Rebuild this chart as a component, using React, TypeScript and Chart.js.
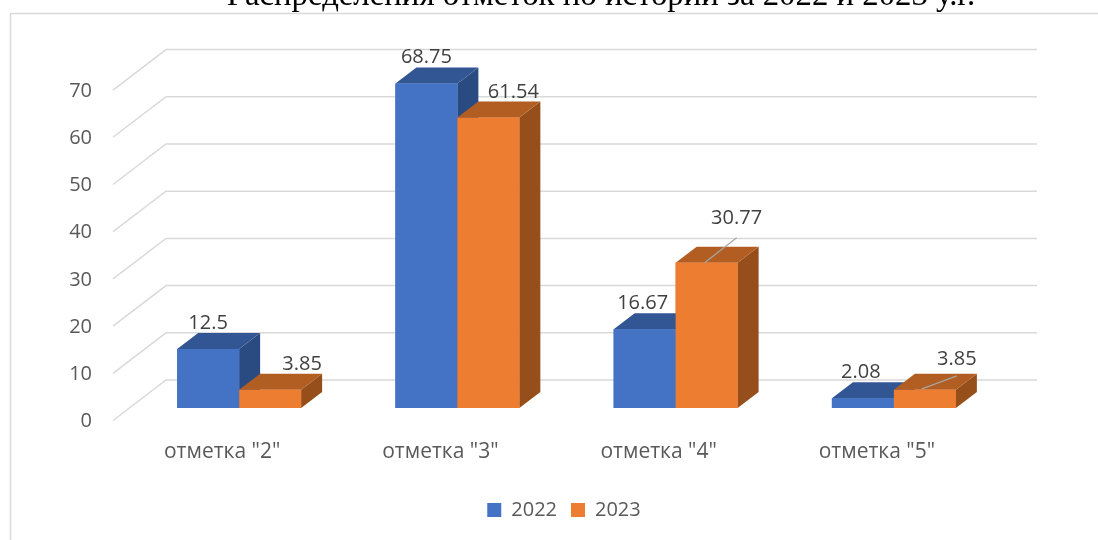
import React, { useEffect, useRef } from "react";
import { Chart, registerables } from "chart.js";

Chart.register(...registerables);

const CATEGORIES = ['отметка "2"', 'отметка "3"', 'отметка "4"', 'отметка "5"'];
const VALUES_2022 = [12.5, 68.75, 16.67, 2.08];
const VALUES_2023 = [3.85, 61.54, 30.77, 3.85];
const LABELS_2022 = ["12.5", "68.75", "16.67", "2.08"];
const LABELS_2023 = ["3.85", "61.54", "30.77", "3.85"];
const TITLE = "Распределения отметок по истории за 2022 и 2023 у.г.";

const FONT = '"Open Sans", "Noto Sans", sans-serif';
const GRID = "#d9d9d9";
const FACES = [
  { front: "#4472c4", top: "#325694", side: "#2a4a82" },
  { front: "#ed7d31", top: "#b25e23", side: "#964f1b" },
];
const DEPTH_X = 21;
const DEPTH_Y = 16;

// Label offsets from the bar's top-centre, with optional leader lines
const LABEL_OFFSETS = [
  [[0, -26], [0, -26], [-2, -26], [-2, -26]],
  [[32, -26], [25, -25], [30, -44], [32, -31]],
];
const LEADERS = [
  [null, null, null, null],
  [null, null, [[-2, 0], [30, -25]], [[-3, -1], [32, -14]]],
];

const poly = (ctx: CanvasRenderingContext2D, pts: number[][], color: string) => {
  ctx.beginPath();
  pts.forEach((p, i) => (i ? ctx.lineTo(p[0], p[1]) : ctx.moveTo(p[0], p[1])));
  ctx.closePath();
  ctx.fillStyle = color;
  ctx.fill();
};

const threeD = {
  id: "threeD",
  afterLayout(chart: any) {
    const t = chart.titleBlock;
    t.left += 99.5;
    t.right += 99.5;
    const l = chart.legend;
    l.left += 62.5;
    l.right += 62.5;
  },
  beforeDraw(chart: any) {
    const { ctx } = chart;
    ctx.save();
    ctx.strokeStyle = GRID;
    ctx.lineWidth = 1.5;
    ctx.beginPath();
    ctx.moveTo(10.5, 540);
    ctx.lineTo(10.5, 13.5);
    ctx.lineTo(1098, 13.5);
    ctx.stroke();
    ctx.restore();
  },
  beforeDatasetsDraw(chart: any) {
    const { ctx, chartArea } = chart;
    const y = chart.scales.y;
    ctx.save();
    ctx.strokeStyle = GRID;
    ctx.lineWidth = 1.5;
    y.ticks.forEach((t: any) => {
      const py = y.getPixelForValue(t.value);
      ctx.beginPath();
      ctx.moveTo(chartArea.left - 17, py + 12.5);
      ctx.lineTo(chartArea.left + 36, py - 28);
      ctx.lineTo(chartArea.right + 34, py - 28);
      ctx.stroke();
    });
    ctx.restore();
  },
  afterDatasetsDraw(chart: any) {
    const { ctx } = chart;
    ctx.save();
    [0, 1].forEach((d) => {
      const meta = chart.getDatasetMeta(d);
      meta.data.forEach((bar: any) => {
        const half = bar.width / 2;
        const l = bar.x - half;
        const r = bar.x + half;
        poly(ctx, [[r, bar.y], [r + DEPTH_X, bar.y - DEPTH_Y], [r + DEPTH_X, bar.base - DEPTH_Y], [r, bar.base]], FACES[d].side);
        poly(ctx, [[l, bar.y], [l + DEPTH_X, bar.y - DEPTH_Y], [r + DEPTH_X, bar.y - DEPTH_Y], [r, bar.y]], FACES[d].top);
        bar.draw(ctx);
      });
    });
    ctx.font = `20px ${FONT}`;
    ctx.textAlign = "center";
    ctx.textBaseline = "middle";
    [LABELS_2022, LABELS_2023].forEach((labels, d) => {
      const meta = chart.getDatasetMeta(d);
      labels.forEach((text, i) => {
        const bar = meta.data[i];
        const leader = LEADERS[d][i];
        if (leader) {
          ctx.strokeStyle = "#a6a6a6";
          ctx.lineWidth = 1.2;
          ctx.beginPath();
          ctx.moveTo(bar.x + leader[0][0], bar.y + leader[0][1]);
          ctx.lineTo(bar.x + leader[1][0], bar.y + leader[1][1]);
          ctx.stroke();
        }
        const [dx, dy] = LABEL_OFFSETS[d][i];
        ctx.fillStyle = "#404040";
        ctx.fillText(text, bar.x + dx, bar.y + dy);
      });
    });
    ctx.restore();
  },
};

export default function App() {
  const ref = useRef<HTMLCanvasElement>(null);
  useEffect(() => {
    const chart = new Chart(ref.current!, {
      type: "bar",
      data: {
        labels: CATEGORIES,
        datasets: [
          { label: "2022", data: VALUES_2022, backgroundColor: FACES[0].front, categoryPercentage: 0.568, barPercentage: 1 },
          { label: "2023", data: VALUES_2023, backgroundColor: FACES[1].front, categoryPercentage: 0.568, barPercentage: 1 },
        ],
      },
      options: {
        responsive: false,
        animation: false,
        layout: { padding: { left: 0, right: 95, top: 0, bottom: 10 } },
        scales: {
          x: {
            grid: { display: false },
            border: { display: false },
            ticks: { color: "#595959", font: { family: FONT, size: 21 }, padding: 23, labelOffset: -17, maxRotation: 0 },
            afterFit: (s: any) => { s.height = 78; },
          },
          y: {
            min: 0,
            max: 70,
            grid: { display: false },
            border: { display: false },
            ticks: { stepSize: 10, color: "#595959", font: { family: FONT, size: 20 }, padding: 30, labelOffset: 13.5 },
            afterFit: (s: any) => { s.width = 130; },
          },
        },
        plugins: {
          tooltip: { enabled: false },
          title: {
            display: true,
            text: TITLE,
            color: "#000000",
            font: { family: '"Liberation Serif", serif', size: 32.8, weight: "normal" },
            padding: { top: -23, bottom: 61.2 },
          },
          legend: {
            position: "bottom",
            labels: { color: "#595959", font: { family: FONT, size: 20 }, boxWidth: 14, boxHeight: 14, padding: 14 },
          },
        },
      },
      plugins: [threeD],
    } as any);
    return () => chart.destroy();
  }, []);
  return (
    <div style={{ position: "absolute", left: 0, top: 0, width: 1098, height: 540 }}>
      <canvas ref={ref} width={1098} height={540} style={{ display: "block" }} />
    </div>
  );
}
